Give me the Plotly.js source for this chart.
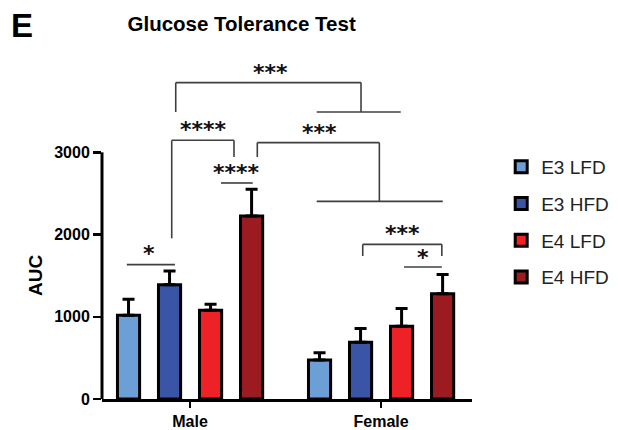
<!DOCTYPE html>
<html>
<head>
<meta charset="utf-8">
<script src="https://cdn.plot.ly/plotly-3.0.1.min.js"></script>
<style>html,body{margin:0;padding:0;background:#fff;}#chart{width:618px;height:430px;}</style>
</head>
<body>
<div id="chart"></div>
<script>
// ---- data ----
const groups = ['Male', 'Female'];
const seriesNames = ['E3 LFD', 'E3 HFD', 'E4 LFD', 'E4 HFD'];
const e3lfd = [1020, 475];
const e3hfd = [1390, 690];
const e4lfd = [1080, 885];
const e4hfd = [2225, 1280];
const e3lfdErr = [194, 87];
const e3hfdErr = [168, 167];
const e4lfdErr = [73, 215];
const e4hfdErr = [325, 233];
const yTicks = [0, 1000, 2000, 3000];
const sigLabels = ['***', '****', '****', '***', '*', '***', '*'];

// ---- styling / placement ----
const colors = ['#6b9fd6', '#3a55a5', '#ee2127', '#9c1b20'];
const means = [e3lfd, e3hfd, e4lfd, e4hfd];
const errs = [e3lfdErr, e3hfdErr, e4lfdErr, e4hfdErr];
const Y_MAX = 4366;

// bracket polylines (axis units)
const brackets = [
  [[-0.075, 3490], [-0.075, 3848], [0.895, 3848], [0.895, 3490]],
  [[0.663, 3490], [1.103, 3490]],
  [[-0.096, 1954], [-0.096, 3146], [0.230, 3146], [0.230, 2943]],
  [[0.162, 2627], [0.328, 2627]],
  [[0.352, 2943], [0.352, 3118], [0.991, 3118], [0.991, 2404]],
  [[0.663, 2404], [1.323, 2404]],
  [[-0.331, 1634], [-0.079, 1634]],
  [[0.904, 1739], [0.904, 1881], [1.318, 1881], [1.318, 1739]],
  [[1.120, 1605], [1.318, 1605]]
];
const sigPos = [[0.419, 4030], [0.070, 3337], [0.245, 2814], [0.677, 3308], [-0.213, 1829], [1.114, 2072], [1.221, 1780]];

const traces = seriesNames.map((name, i) => ({
  type: 'bar',
  name: name,
  legendgroup: name,
  x: groups,
  y: means[i],
  marker: {color: colors[i], line: {color: '#000', width: 3}},
  error_y: {type: 'data', symmetric: false, array: errs[i], arrayminus: groups.map(() => 0),
            color: '#000', thickness: 3, width: 6},
  cliponaxis: false
}));

const shapes = [];
brackets.forEach(pl => {
  for (let k = 0; k < pl.length - 1; k++) {
    shapes.push({type: 'line', xref: 'x', yref: 'y',
      x0: pl[k][0], y0: pl[k][1], x1: pl[k + 1][0], y1: pl[k + 1][1],
      line: {color: '#3f3f3f', width: 1.6}});
  }
});
// y axis line only over the tick range
shapes.push({type: 'line', xref: 'paper', yref: 'y', x0: 0, x1: 0, y0: 0, y1: yTicks[yTicks.length - 1],
  line: {color: '#000', width: 3}});

const annotations = sigLabels.map((t, i) => ({
  xref: 'x', yref: 'y', x: sigPos[i][0], y: sigPos[i][1], text: t, showarrow: false,
  xanchor: 'center', yanchor: 'middle', yshift: -5,
  font: {family: 'DejaVu Sans', size: 22, color: '#111', weight: 'bold'}
}));
annotations.push({xref: 'paper', yref: 'y', x: -0.18, y: 1500, text: 'AUC', textangle: -90,
  showarrow: false, xanchor: 'center', yanchor: 'middle',
  font: {family: 'Liberation Sans', size: 19, color: '#000', weight: 'bold'}});
annotations.push({xref: 'paper', yref: 'paper', x: -0.252, y: 1.097, text: 'E', showarrow: false,
  xanchor: 'left', yanchor: 'top',
  font: {family: 'Liberation Sans', size: 33, color: '#000', weight: 'bold'}});

const layout = {
  width: 618, height: 430,
  margin: {l: 102, r: 146, t: 40, b: 31},
  paper_bgcolor: '#fff', plot_bgcolor: '#fff',
  title: {text: 'Glucose Tolerance Test', xref: 'container', x: 0.391, xanchor: 'center',
          yref: 'container', y: 1 - 24 / 430, yanchor: 'middle',
          font: {family: 'Liberation Sans', size: 20.5, color: '#000', weight: 'bold'}},
  barmode: 'group', bargap: 0.141, bargroupgap: 0.46,
  showlegend: true,
  legend: {xref: 'container', yref: 'container', x: 0.811, y: 1 - 148 / 430, xanchor: 'left', yanchor: 'top',
           font: {family: 'Liberation Sans', size: 19, color: '#222'}, tracegroupgap: 9,
           bgcolor: 'rgba(0,0,0,0)'},
  xaxis: {type: 'category', range: [-0.461, 1.476], showline: true, linecolor: '#000', linewidth: 3,
          ticks: 'outside', ticklen: 6, tickwidth: 2.5, tickcolor: '#000', showgrid: false, zeroline: false,
          tickfont: {family: 'Liberation Sans', size: 16, color: '#000', weight: 'bold'}, fixedrange: true},
  yaxis: {range: [0, Y_MAX], showline: false, tickmode: 'array', tickvals: yTicks, ticktext: yTicks.map(String),
          ticks: 'outside', ticklen: 8, tickwidth: 2.5, tickcolor: '#000', showgrid: false, zeroline: false,
          tickfont: {family: 'Liberation Sans', size: 16, color: '#000', weight: 'bold'}, fixedrange: true},
  shapes: shapes,
  annotations: annotations
};

Plotly.newPlot('chart', traces, layout, {displayModeBar: false, staticPlot: true});
</script>
</body>
</html>
